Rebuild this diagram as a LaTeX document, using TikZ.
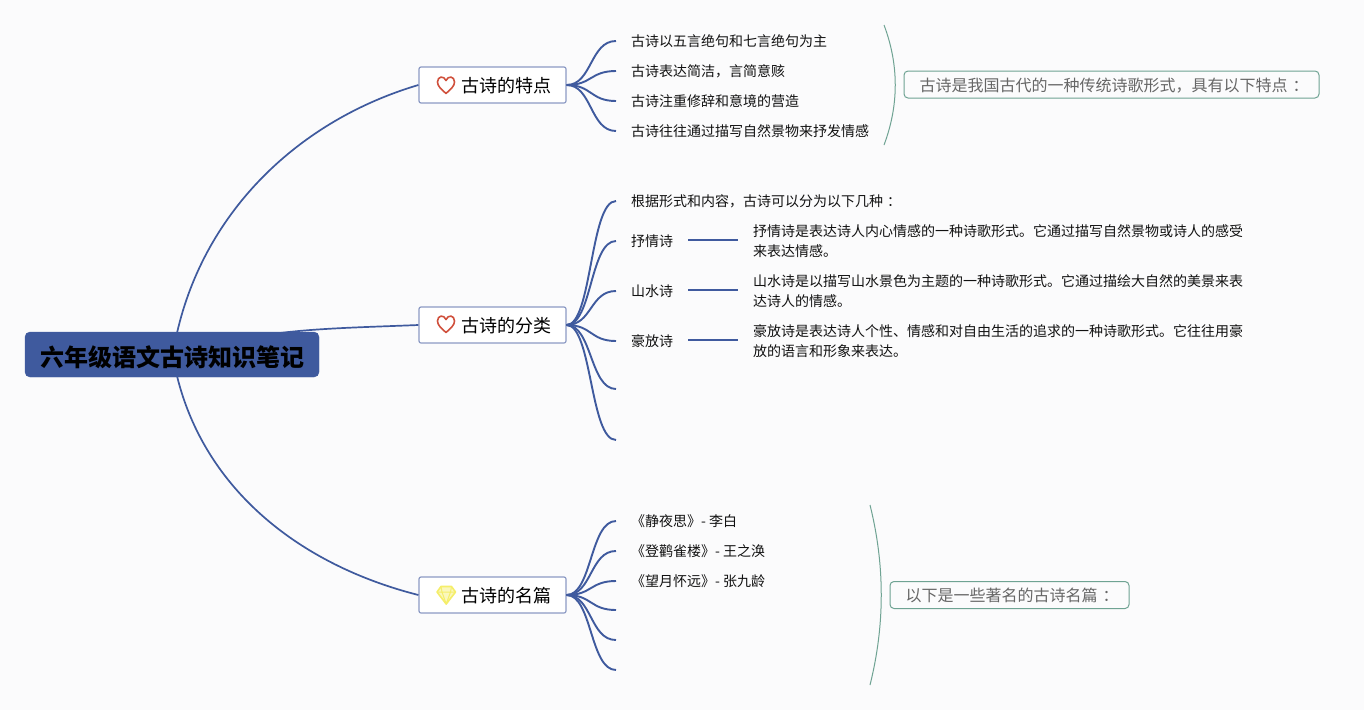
\documentclass[tikz,border=0pt]{standalone}
\usepackage{fontspec}
\setmainfont{Noto Sans CJK SC}
\definecolor{bgc}{HTML}{FBFBFC}
\definecolor{navy}{HTML}{3F5A9E}
\definecolor{bbord}{HTML}{8C9AC4}
\definecolor{teal2}{HTML}{6FA393}
\definecolor{leaft}{HTML}{111111}
\definecolor{heartc}{HTML}{D0503C}
\definecolor{gemc}{HTML}{F5EE6A}
\newcommand{\dropped}[2]{\raisebox{-#1}[0pt][0pt]{#2}}
\tikzset{
  x=1pt,y=-1pt,
  rootbox/.style={draw=navy,fill=navy,rounded corners=5pt,minimum width=294pt,minimum height=45pt,inner sep=0pt,font=\fontsize{24}{28}\selectfont\bfseries,text=black},
  branchbox/.style={draw=bbord,line width=1.2pt,fill=white,rounded corners=2pt,minimum width=147pt,minimum height=36pt,inner sep=0pt,font=\fontsize{18}{22}\selectfont,text=black},
  leafnode/.style={anchor=west,inner xsep=15pt,inner ysep=0pt,font=\fontsize{14}{20}\selectfont,text=leaft},
  descnode/.style={anchor=west,inner xsep=15pt,inner ysep=0pt,align=left,font=\fontsize{14}{20}\selectfont,text=leaft},
  callout/.style={draw=teal2,line width=1pt,fill=bgc,rounded corners=4pt,inner sep=0pt,font=\fontsize{16}{20}\selectfont,text=black!60},
  link/.style={draw=navy,line width=1.9pt},
  thinlink/.style={draw=navy,line width=1.7pt},
  bracecurve/.style={draw=teal2,line width=1pt},
}
\begin{document}
\begin{tikzpicture}
\useasboundingbox (0,0) rectangle (1364,710);
\fill[bgc] (0,0) rectangle (1364,710);

% branch nodes
\node[branchbox] (b1) at (492.5,85) {\hspace*{28pt}\dropped{7.6pt}{古诗的特点}};
\node[branchbox] (b2) at (492.5,325) {\hspace*{28pt}\dropped{7pt}{古诗的分类}};
\node[branchbox] (b3) at (492.5,595) {\hspace*{28pt}\dropped{7.6pt}{古诗的名篇}};

% leaves
\node[leafnode] (a1) at (616,41) {古诗以五言绝句和七言绝句为主};
\node[leafnode] (a2) at (616,71) {古诗表达简洁，言简意赅};
\node[leafnode] (a3) at (616,101) {古诗注重修辞和意境的营造};
\node[leafnode] (a4) at (616,131) {古诗往往通过描写自然景物来抒发情感};

\node[leafnode] (c1) at (616,201) {根据形式和内容，古诗可以分为以下几种\kern4pt：\kern-4pt};
\node[leafnode] (c2) at (616,241) {抒情诗};
\node[leafnode] (c3) at (616,291) {山水诗};
\node[leafnode] (c4) at (616,341) {豪放诗};
\coordinate (c5) at (616,389);
\coordinate (c6) at (616,440);

\node[descnode] (d2) at (738,241) {抒情诗是表达诗人内心情感的一种诗歌形式。它通过描写自然景物或诗人的感受\\来表达情感。};
\node[descnode] (d3) at (738,291) {山水诗是以描写山水景色为主题的一种诗歌形式。它通过描绘大自然的美景来表\\达诗人的情感。};
\node[descnode] (d4) at (738,341) {豪放诗是表达诗人个性、情感和对自由生活的追求的一种诗歌形式。它往往用豪\\放的语言和形象来表达。};

\node[leafnode] (e1) at (616,521) {《静夜思》- 李白};
\node[leafnode] (e2) at (616,551) {《登鹳雀楼》- 王之涣};
\node[leafnode] (e3) at (616,581) {《望月怀远》- 张九龄};
\coordinate (e4) at (616,610);
\coordinate (e5) at (616,640);
\coordinate (e6) at (616,670);

% callouts
\node[callout,minimum width=415pt,minimum height=27pt] (n1) at (1111.5,84.5) {\dropped{6.5pt}{古诗是我国古代的一种传统诗歌形式，具有以下特点\kern5pt：\kern-5pt}};
\node[callout,minimum width=239pt,minimum height=27pt] (n3) at (1009.5,595) {\dropped{6pt}{以下是一些著名的古诗名篇\kern5pt：\kern-5pt}};

% root connectors
\coordinate (rt1) at (177,333);
\coordinate (rt2) at (280,333);
\coordinate (rt3) at (177,376);
\draw[thinlink] (rt1) .. controls (205,210) and (300,120) .. (b1.west);
\draw[thinlink] (rt2) .. controls (320,328) and (370,327) .. (b2.west);
\draw[thinlink] (rt3) .. controls (205,490) and (300,565) .. (b3.west);

\node[rootbox] (root) at (172,354.5) {\dropped{12pt}{六年级语文古诗知识笔记}};

% branch to leaves
\foreach \t in {a1,a2,a3,a4}{
  \draw[link] (b1.east) .. controls (592,85) and (590,0 |- \t.west) .. (\t.west);
}
\foreach \t in {c1,c2,c3,c4}{
  \draw[link] (b2.east) .. controls (592,325) and (590,0 |- \t.west) .. (\t.west);
}
\foreach \t in {c5,c6}{
  \draw[link] (b2.east) .. controls (592,325) and (590,0 |- \t) .. (\t);
}
\foreach \t in {e1,e2,e3}{
  \draw[link] (b3.east) .. controls (592,595) and (590,0 |- \t.west) .. (\t.west);
}
\foreach \t in {e4,e5,e6}{
  \draw[link] (b3.east) .. controls (592,595) and (590,0 |- \t) .. (\t);
}

% leaf to description
\draw[thinlink] ([yshift=0.7pt]c2.east) -- ([yshift=0.7pt]c2.east -| d2.west);
\draw[thinlink] ([yshift=0.7pt]c3.east) -- ([yshift=0.7pt]c3.east -| d3.west);
\draw[thinlink] ([yshift=0.7pt]c4.east) -- ([yshift=0.7pt]c4.east -| d4.west);

% braces
\coordinate (s1a) at (884,25);
\coordinate (s1b) at (884,145);
\draw[bracecurve] (s1a) .. controls (899,65) and (899,105) .. (s1b);
\coordinate (s3a) at (870,505);
\coordinate (s3b) at (870,685);
\draw[bracecurve] (s3a) .. controls (885,565) and (885,625) .. (s3b);

% heart icons
\foreach \cy in {85,324}{
\draw[heartc,line width=1.6pt,line join=round]
  (446,\cy+8.5) .. controls (441,\cy+4) and (437.5,\cy+1) .. (437.5,\cy-3)
  .. controls (437.5,\cy-9) and (444,\cy-9.5) .. (446,\cy-4.5)
  .. controls (448,\cy-9.5) and (454.5,\cy-9) .. (454.5,\cy-3)
  .. controls (454.5,\cy+1) and (451,\cy+4) .. (446,\cy+8.5) -- cycle;
}
% gem icon
\draw[gemc,line width=1.6pt,line join=round,fill=gemc!45]
  (441,586.5) -- (451.5,586.5) -- (455.5,592) -- (446.2,604) -- (437,592) -- cycle;
\draw[gemc,line width=1pt,line join=round]
  (437,592) -- (455.5,592) (441,586.5) -- (442,592) -- (446.2,604) -- (450.5,592) -- (451.5,586.5);
\end{tikzpicture}
\end{document}
